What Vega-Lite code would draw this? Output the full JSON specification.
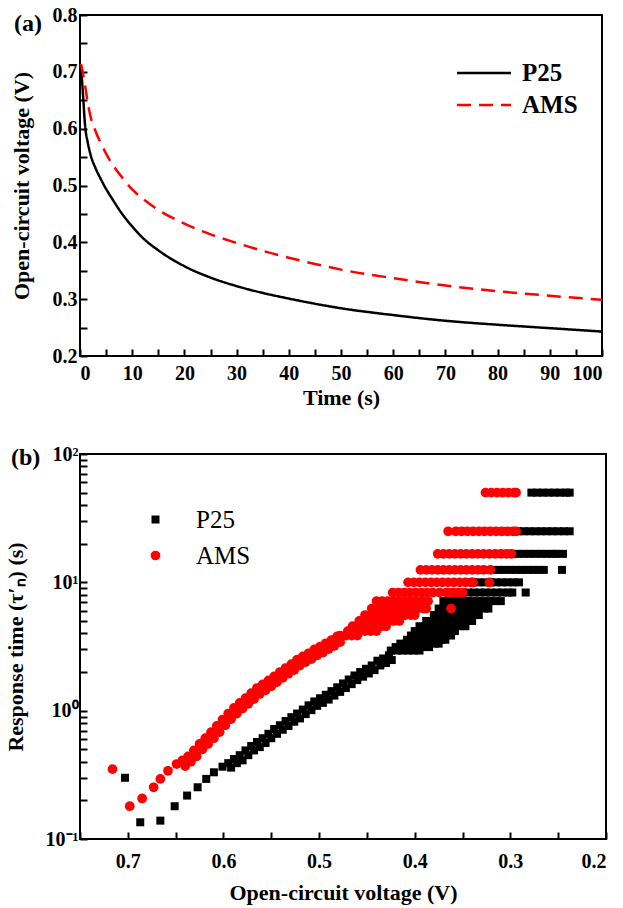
{
"$schema":"https://vega.github.io/schema/vega-lite/v6.json",
"background":"white",
"padding":{"left":3,"top":4,"right":5,"bottom":5},
"config":{
"font":"Liberation Serif",
"view":{"stroke":"black","strokeWidth":2},
"axis":{"labelFont":"Liberation Serif","labelFontWeight":"bold","labelFontSize":20,"labelColor":"black","titleFont":"Liberation Serif","titleFontWeight":"bold","titleFontSize":22,"titleColor":"black","domain":false}
},
"spacing":98,
"bounds":"flush",
"resolve":{"scale":{"color":"independent","shape":"independent","strokeDash":"independent","size":"independent"},"legend":{"color":"independent","shape":"independent","strokeDash":"independent","size":"independent"}},
"datasets":{
"a":[
{"s":"P25","t":0.2,"v":0.708},{"s":"P25","t":0.5,"v":0.67},{"s":"P25","t":1,"v":0.603},{"s":"P25","t":1.5,"v":0.575},{"s":"P25","t":2,"v":0.555},{"s":"P25","t":3,"v":0.53},{"s":"P25","t":4,"v":0.511},{"s":"P25","t":5,"v":0.494},{"s":"P25","t":6,"v":0.479},{"s":"P25","t":8,"v":0.451},{"s":"P25","t":10,"v":0.428},{"s":"P25","t":12,"v":0.408},{"s":"P25","t":15,"v":0.386},{"s":"P25","t":20,"v":0.358},{"s":"P25","t":25,"v":0.338},{"s":"P25","t":30,"v":0.323},{"s":"P25","t":35,"v":0.311},{"s":"P25","t":40,"v":0.301},{"s":"P25","t":45,"v":0.292},{"s":"P25","t":50,"v":0.284},{"s":"P25","t":60,"v":0.272},{"s":"P25","t":70,"v":0.262},{"s":"P25","t":80,"v":0.255},{"s":"P25","t":90,"v":0.249},{"s":"P25","t":100,"v":0.243},
{"s":"AMS","t":0.2,"v":0.714},{"s":"AMS","t":0.5,"v":0.7},{"s":"AMS","t":1,"v":0.674},{"s":"AMS","t":1.5,"v":0.645},{"s":"AMS","t":2,"v":0.622},{"s":"AMS","t":3,"v":0.595},{"s":"AMS","t":4,"v":0.574},{"s":"AMS","t":5,"v":0.556},{"s":"AMS","t":6,"v":0.54},{"s":"AMS","t":8,"v":0.515},{"s":"AMS","t":10,"v":0.493},{"s":"AMS","t":12,"v":0.477},{"s":"AMS","t":15,"v":0.457},{"s":"AMS","t":20,"v":0.433},{"s":"AMS","t":25,"v":0.414},{"s":"AMS","t":30,"v":0.399},{"s":"AMS","t":35,"v":0.385},{"s":"AMS","t":40,"v":0.373},{"s":"AMS","t":45,"v":0.362},{"s":"AMS","t":50,"v":0.352},{"s":"AMS","t":60,"v":0.337},{"s":"AMS","t":70,"v":0.324},{"s":"AMS","t":80,"v":0.314},{"s":"AMS","t":90,"v":0.306},{"s":"AMS","t":100,"v":0.299}
],
"b":[
{"s":"P25","v":0.703,"t":0.3},{"s":"P25","v":0.687,"t":0.135},{"s":"P25","v":0.666,"t":0.139},{"s":"P25","v":0.651,"t":0.18},{"s":"P25","v":0.638,"t":0.218},{"s":"P25","v":0.627,"t":0.253},{"s":"P25","v":0.618,"t":0.294},{"s":"P25","v":0.61,"t":0.331},{"s":"P25","v":0.601,"t":0.366},
{"s":"P25","v":0.595,"t":0.39},{"s":"P25","v":0.589,"t":0.42},{"s":"P25","v":0.583,"t":0.45},{"s":"P25","v":0.577,"t":0.49},{"s":"P25","v":0.571,"t":0.53},{"s":"P25","v":0.565,"t":0.57},{"s":"P25","v":0.559,"t":0.61},{"s":"P25","v":0.553,"t":0.66},{"s":"P25","v":0.547,"t":0.72},{"s":"P25","v":0.541,"t":0.77},{"s":"P25","v":0.535,"t":0.83},{"s":"P25","v":0.529,"t":0.89},{"s":"P25","v":0.523,"t":0.95},{"s":"P25","v":0.517,"t":1.02},{"s":"P25","v":0.511,"t":1.1},{"s":"P25","v":0.505,"t":1.18},{"s":"P25","v":0.499,"t":1.25},{"s":"P25","v":0.493,"t":1.33},{"s":"P25","v":0.487,"t":1.42},{"s":"P25","v":0.481,"t":1.52},{"s":"P25","v":0.475,"t":1.63},{"s":"P25","v":0.469,"t":1.75},{"s":"P25","v":0.463,"t":1.88},{"s":"P25","v":0.457,"t":2.0},{"s":"P25","v":0.451,"t":2.12},{"s":"P25","v":0.445,"t":2.25},{"s":"P25","v":0.439,"t":2.45},{"s":"P25","v":0.433,"t":2.55},{"s":"P25","v":0.427,"t":2.7},
{"s":"P25","v":0.592,"t":0.36},{"s":"P25","v":0.586,"t":0.39},{"s":"P25","v":0.58,"t":0.41},{"s":"P25","v":0.574,"t":0.45},{"s":"P25","v":0.568,"t":0.49},{"s":"P25","v":0.562,"t":0.52},{"s":"P25","v":0.556,"t":0.56},{"s":"P25","v":0.55,"t":0.61},{"s":"P25","v":0.544,"t":0.66},{"s":"P25","v":0.538,"t":0.71},{"s":"P25","v":0.532,"t":0.76},{"s":"P25","v":0.526,"t":0.82},{"s":"P25","v":0.52,"t":0.87},{"s":"P25","v":0.514,"t":0.94},{"s":"P25","v":0.508,"t":1.01},{"s":"P25","v":0.502,"t":1.09},{"s":"P25","v":0.496,"t":1.15},{"s":"P25","v":0.49,"t":1.22},{"s":"P25","v":0.484,"t":1.31},{"s":"P25","v":0.478,"t":1.4},{"s":"P25","v":0.472,"t":1.5},{"s":"P25","v":0.466,"t":1.61},{"s":"P25","v":0.46,"t":1.73},{"s":"P25","v":0.454,"t":1.84},{"s":"P25","v":0.448,"t":1.95},{"s":"P25","v":0.442,"t":2.07},{"s":"P25","v":0.436,"t":2.25},{"s":"P25","v":0.43,"t":2.35},{"s":"P25","v":0.424,"t":2.48},
{"s":"P25","v":0.425,"t":2.94},{"s":"P25","v":0.419,"t":2.94},{"s":"P25","v":0.413,"t":2.94},{"s":"P25","v":0.407,"t":2.94},{"s":"P25","v":0.401,"t":2.94},{"s":"P25","v":0.395,"t":2.94},
{"s":"P25","v":0.42,"t":3.13},{"s":"P25","v":0.414,"t":3.13},{"s":"P25","v":0.408,"t":3.13},{"s":"P25","v":0.402,"t":3.13},{"s":"P25","v":0.396,"t":3.13},{"s":"P25","v":0.39,"t":3.13},{"s":"P25","v":0.385,"t":3.13},
{"s":"P25","v":0.415,"t":3.33},{"s":"P25","v":0.409,"t":3.33},{"s":"P25","v":0.403,"t":3.33},{"s":"P25","v":0.397,"t":3.33},{"s":"P25","v":0.391,"t":3.33},{"s":"P25","v":0.385,"t":3.33},{"s":"P25","v":0.379,"t":3.33},{"s":"P25","v":0.375,"t":3.33},
{"s":"P25","v":0.408,"t":3.57},{"s":"P25","v":0.402,"t":3.57},{"s":"P25","v":0.396,"t":3.57},{"s":"P25","v":0.39,"t":3.57},{"s":"P25","v":0.384,"t":3.57},{"s":"P25","v":0.378,"t":3.57},{"s":"P25","v":0.372,"t":3.57},{"s":"P25","v":0.368,"t":3.57},
{"s":"P25","v":0.404,"t":3.85},{"s":"P25","v":0.398,"t":3.85},{"s":"P25","v":0.392,"t":3.85},{"s":"P25","v":0.386,"t":3.85},{"s":"P25","v":0.38,"t":3.85},{"s":"P25","v":0.374,"t":3.85},{"s":"P25","v":0.368,"t":3.85},{"s":"P25","v":0.362,"t":3.85},
{"s":"P25","v":0.4,"t":4.17},{"s":"P25","v":0.394,"t":4.17},{"s":"P25","v":0.388,"t":4.17},{"s":"P25","v":0.382,"t":4.17},{"s":"P25","v":0.376,"t":4.17},{"s":"P25","v":0.37,"t":4.17},{"s":"P25","v":0.364,"t":4.17},{"s":"P25","v":0.358,"t":4.17},
{"s":"P25","v":0.395,"t":4.55},{"s":"P25","v":0.389,"t":4.55},{"s":"P25","v":0.383,"t":4.55},{"s":"P25","v":0.377,"t":4.55},{"s":"P25","v":0.371,"t":4.55},{"s":"P25","v":0.365,"t":4.55},{"s":"P25","v":0.359,"t":4.55},{"s":"P25","v":0.353,"t":4.55},{"s":"P25","v":0.347,"t":4.55},
{"s":"P25","v":0.388,"t":5},{"s":"P25","v":0.382,"t":5},{"s":"P25","v":0.376,"t":5},{"s":"P25","v":0.37,"t":5},{"s":"P25","v":0.364,"t":5},{"s":"P25","v":0.358,"t":5},{"s":"P25","v":0.352,"t":5},{"s":"P25","v":0.346,"t":5},{"s":"P25","v":0.34,"t":5},
{"s":"P25","v":0.38,"t":5.56},{"s":"P25","v":0.374,"t":5.56},{"s":"P25","v":0.368,"t":5.56},{"s":"P25","v":0.362,"t":5.56},{"s":"P25","v":0.356,"t":5.56},{"s":"P25","v":0.35,"t":5.56},{"s":"P25","v":0.344,"t":5.56},{"s":"P25","v":0.338,"t":5.56},{"s":"P25","v":0.333,"t":5.56},
{"s":"P25","v":0.375,"t":6.25},{"s":"P25","v":0.369,"t":6.25},{"s":"P25","v":0.363,"t":6.25},{"s":"P25","v":0.357,"t":6.25},{"s":"P25","v":0.351,"t":6.25},{"s":"P25","v":0.345,"t":6.25},{"s":"P25","v":0.339,"t":6.25},{"s":"P25","v":0.333,"t":6.25},{"s":"P25","v":0.327,"t":6.25},{"s":"P25","v":0.323,"t":6.25},
{"s":"P25","v":0.37,"t":7.14},{"s":"P25","v":0.364,"t":7.14},{"s":"P25","v":0.358,"t":7.14},{"s":"P25","v":0.352,"t":7.14},{"s":"P25","v":0.346,"t":7.14},{"s":"P25","v":0.34,"t":7.14},{"s":"P25","v":0.334,"t":7.14},{"s":"P25","v":0.328,"t":7.14},{"s":"P25","v":0.322,"t":7.14},{"s":"P25","v":0.316,"t":7.14},{"s":"P25","v":0.31,"t":7.14},
{"s":"P25","v":0.362,"t":8.33},{"s":"P25","v":0.356,"t":8.33},{"s":"P25","v":0.35,"t":8.33},{"s":"P25","v":0.344,"t":8.33},{"s":"P25","v":0.338,"t":8.33},{"s":"P25","v":0.332,"t":8.33},{"s":"P25","v":0.326,"t":8.33},{"s":"P25","v":0.32,"t":8.33},{"s":"P25","v":0.314,"t":8.33},{"s":"P25","v":0.308,"t":8.33},{"s":"P25","v":0.302,"t":8.33},{"s":"P25","v":0.298,"t":8.33},{"s":"P25","v":0.284,"t":8.33},
{"s":"P25","v":0.345,"t":10},{"s":"P25","v":0.339,"t":10},{"s":"P25","v":0.333,"t":10},{"s":"P25","v":0.327,"t":10},{"s":"P25","v":0.321,"t":10},{"s":"P25","v":0.315,"t":10},{"s":"P25","v":0.309,"t":10},{"s":"P25","v":0.303,"t":10},{"s":"P25","v":0.297,"t":10},{"s":"P25","v":0.291,"t":10},
{"s":"P25","v":0.33,"t":12.5},{"s":"P25","v":0.324,"t":12.5},{"s":"P25","v":0.318,"t":12.5},{"s":"P25","v":0.312,"t":12.5},{"s":"P25","v":0.306,"t":12.5},{"s":"P25","v":0.3,"t":12.5},{"s":"P25","v":0.294,"t":12.5},{"s":"P25","v":0.288,"t":12.5},{"s":"P25","v":0.282,"t":12.5},{"s":"P25","v":0.276,"t":12.5},{"s":"P25","v":0.271,"t":12.5},{"s":"P25","v":0.265,"t":12.5},{"s":"P25","v":0.246,"t":12.5},
{"s":"P25","v":0.31,"t":16.67},{"s":"P25","v":0.304,"t":16.67},{"s":"P25","v":0.298,"t":16.67},{"s":"P25","v":0.292,"t":16.67},{"s":"P25","v":0.286,"t":16.67},{"s":"P25","v":0.28,"t":16.67},{"s":"P25","v":0.274,"t":16.67},{"s":"P25","v":0.268,"t":16.67},{"s":"P25","v":0.262,"t":16.67},{"s":"P25","v":0.256,"t":16.67},{"s":"P25","v":0.252,"t":16.67},{"s":"P25","v":0.245,"t":16.67},
{"s":"P25","v":0.31,"t":25},{"s":"P25","v":0.304,"t":25},{"s":"P25","v":0.298,"t":25},{"s":"P25","v":0.292,"t":25},{"s":"P25","v":0.286,"t":25},{"s":"P25","v":0.28,"t":25},{"s":"P25","v":0.274,"t":25},{"s":"P25","v":0.268,"t":25},{"s":"P25","v":0.262,"t":25},{"s":"P25","v":0.256,"t":25},{"s":"P25","v":0.25,"t":25},{"s":"P25","v":0.244,"t":25},{"s":"P25","v":0.238,"t":25},
{"s":"P25","v":0.278,"t":50},{"s":"P25","v":0.272,"t":50},{"s":"P25","v":0.266,"t":50},{"s":"P25","v":0.26,"t":50},{"s":"P25","v":0.254,"t":50},{"s":"P25","v":0.248,"t":50},{"s":"P25","v":0.242,"t":50},{"s":"P25","v":0.238,"t":50},
{"s":"AMS","v":0.716,"t":0.35},{"s":"AMS","v":0.698,"t":0.18},{"s":"AMS","v":0.685,"t":0.207},{"s":"AMS","v":0.673,"t":0.253},{"s":"AMS","v":0.666,"t":0.294},{"s":"AMS","v":0.658,"t":0.34},{"s":"AMS","v":0.649,"t":0.384},
{"s":"AMS","v":0.643,"t":0.41},{"s":"AMS","v":0.637,"t":0.44},{"s":"AMS","v":0.631,"t":0.49},{"s":"AMS","v":0.625,"t":0.55},{"s":"AMS","v":0.619,"t":0.61},{"s":"AMS","v":0.613,"t":0.68},{"s":"AMS","v":0.607,"t":0.76},{"s":"AMS","v":0.601,"t":0.85},{"s":"AMS","v":0.595,"t":0.95},{"s":"AMS","v":0.589,"t":1.05},{"s":"AMS","v":0.583,"t":1.15},{"s":"AMS","v":0.577,"t":1.25},{"s":"AMS","v":0.571,"t":1.37},{"s":"AMS","v":0.565,"t":1.5},{"s":"AMS","v":0.559,"t":1.6},{"s":"AMS","v":0.553,"t":1.72},{"s":"AMS","v":0.547,"t":1.85},{"s":"AMS","v":0.541,"t":2.0},{"s":"AMS","v":0.535,"t":2.15},{"s":"AMS","v":0.529,"t":2.3},{"s":"AMS","v":0.523,"t":2.5},{"s":"AMS","v":0.517,"t":2.65},{"s":"AMS","v":0.511,"t":2.8},{"s":"AMS","v":0.505,"t":3.0},{"s":"AMS","v":0.499,"t":3.15},{"s":"AMS","v":0.493,"t":3.35},{"s":"AMS","v":0.487,"t":3.55},{"s":"AMS","v":0.481,"t":3.8},
{"s":"AMS","v":0.64,"t":0.37},{"s":"AMS","v":0.634,"t":0.4},{"s":"AMS","v":0.628,"t":0.44},{"s":"AMS","v":0.622,"t":0.5},{"s":"AMS","v":0.616,"t":0.55},{"s":"AMS","v":0.61,"t":0.61},{"s":"AMS","v":0.604,"t":0.68},{"s":"AMS","v":0.598,"t":0.77},{"s":"AMS","v":0.592,"t":0.86},{"s":"AMS","v":0.586,"t":0.95},{"s":"AMS","v":0.58,"t":1.04},{"s":"AMS","v":0.574,"t":1.13},{"s":"AMS","v":0.568,"t":1.23},{"s":"AMS","v":0.562,"t":1.35},{"s":"AMS","v":0.556,"t":1.44},{"s":"AMS","v":0.55,"t":1.55},{"s":"AMS","v":0.544,"t":1.67},{"s":"AMS","v":0.538,"t":1.8},{"s":"AMS","v":0.532,"t":1.94},{"s":"AMS","v":0.526,"t":2.07},{"s":"AMS","v":0.52,"t":2.25},{"s":"AMS","v":0.514,"t":2.39},{"s":"AMS","v":0.508,"t":2.52},{"s":"AMS","v":0.502,"t":2.7},{"s":"AMS","v":0.496,"t":2.84},{"s":"AMS","v":0.49,"t":3.02},{"s":"AMS","v":0.484,"t":3.2},{"s":"AMS","v":0.478,"t":3.42},
{"s":"AMS","v":0.478,"t":3.85},{"s":"AMS","v":0.472,"t":3.85},{"s":"AMS","v":0.466,"t":3.85},{"s":"AMS","v":0.46,"t":3.85},
{"s":"AMS","v":0.47,"t":4.17},{"s":"AMS","v":0.464,"t":4.17},{"s":"AMS","v":0.458,"t":4.17},{"s":"AMS","v":0.452,"t":4.17},{"s":"AMS","v":0.446,"t":4.17},{"s":"AMS","v":0.44,"t":4.17},
{"s":"AMS","v":0.465,"t":4.55},{"s":"AMS","v":0.459,"t":4.55},{"s":"AMS","v":0.453,"t":4.55},{"s":"AMS","v":0.447,"t":4.55},{"s":"AMS","v":0.441,"t":4.55},{"s":"AMS","v":0.435,"t":4.55},{"s":"AMS","v":0.43,"t":4.55},
{"s":"AMS","v":0.458,"t":5},{"s":"AMS","v":0.452,"t":5},{"s":"AMS","v":0.446,"t":5},{"s":"AMS","v":0.44,"t":5},{"s":"AMS","v":0.434,"t":5},{"s":"AMS","v":0.428,"t":5},{"s":"AMS","v":0.422,"t":5},{"s":"AMS","v":0.416,"t":5},
{"s":"AMS","v":0.452,"t":5.56},{"s":"AMS","v":0.446,"t":5.56},{"s":"AMS","v":0.44,"t":5.56},{"s":"AMS","v":0.434,"t":5.56},{"s":"AMS","v":0.428,"t":5.56},{"s":"AMS","v":0.422,"t":5.56},{"s":"AMS","v":0.416,"t":5.56},{"s":"AMS","v":0.41,"t":5.56},{"s":"AMS","v":0.404,"t":5.56},{"s":"AMS","v":0.4,"t":5.56},
{"s":"AMS","v":0.445,"t":6.25},{"s":"AMS","v":0.439,"t":6.25},{"s":"AMS","v":0.433,"t":6.25},{"s":"AMS","v":0.427,"t":6.25},{"s":"AMS","v":0.421,"t":6.25},{"s":"AMS","v":0.415,"t":6.25},{"s":"AMS","v":0.409,"t":6.25},{"s":"AMS","v":0.403,"t":6.25},{"s":"AMS","v":0.397,"t":6.25},{"s":"AMS","v":0.391,"t":6.25},{"s":"AMS","v":0.388,"t":6.25},{"s":"AMS","v":0.362,"t":6.25},
{"s":"AMS","v":0.44,"t":7.14},{"s":"AMS","v":0.434,"t":7.14},{"s":"AMS","v":0.428,"t":7.14},{"s":"AMS","v":0.422,"t":7.14},{"s":"AMS","v":0.416,"t":7.14},{"s":"AMS","v":0.41,"t":7.14},{"s":"AMS","v":0.404,"t":7.14},{"s":"AMS","v":0.398,"t":7.14},{"s":"AMS","v":0.392,"t":7.14},{"s":"AMS","v":0.386,"t":7.14},
{"s":"AMS","v":0.423,"t":8.33},{"s":"AMS","v":0.417,"t":8.33},{"s":"AMS","v":0.411,"t":8.33},{"s":"AMS","v":0.405,"t":8.33},{"s":"AMS","v":0.399,"t":8.33},{"s":"AMS","v":0.393,"t":8.33},{"s":"AMS","v":0.387,"t":8.33},{"s":"AMS","v":0.381,"t":8.33},{"s":"AMS","v":0.374,"t":8.33},{"s":"AMS","v":0.367,"t":8.33},{"s":"AMS","v":0.361,"t":8.33},{"s":"AMS","v":0.355,"t":8.33},{"s":"AMS","v":0.35,"t":8.33},
{"s":"AMS","v":0.407,"t":10},{"s":"AMS","v":0.401,"t":10},{"s":"AMS","v":0.395,"t":10},{"s":"AMS","v":0.389,"t":10},{"s":"AMS","v":0.383,"t":10},{"s":"AMS","v":0.377,"t":10},{"s":"AMS","v":0.371,"t":10},{"s":"AMS","v":0.365,"t":10},{"s":"AMS","v":0.359,"t":10},{"s":"AMS","v":0.353,"t":10},{"s":"AMS","v":0.347,"t":10},{"s":"AMS","v":0.341,"t":10},{"s":"AMS","v":0.339,"t":10},{"s":"AMS","v":0.322,"t":10},
{"s":"AMS","v":0.394,"t":12.5},{"s":"AMS","v":0.388,"t":12.5},{"s":"AMS","v":0.382,"t":12.5},{"s":"AMS","v":0.376,"t":12.5},{"s":"AMS","v":0.37,"t":12.5},{"s":"AMS","v":0.364,"t":12.5},{"s":"AMS","v":0.358,"t":12.5},{"s":"AMS","v":0.352,"t":12.5},{"s":"AMS","v":0.346,"t":12.5},{"s":"AMS","v":0.34,"t":12.5},{"s":"AMS","v":0.334,"t":12.5},{"s":"AMS","v":0.328,"t":12.5},{"s":"AMS","v":0.321,"t":12.5},
{"s":"AMS","v":0.376,"t":16.67},{"s":"AMS","v":0.37,"t":16.67},{"s":"AMS","v":0.364,"t":16.67},{"s":"AMS","v":0.358,"t":16.67},{"s":"AMS","v":0.352,"t":16.67},{"s":"AMS","v":0.346,"t":16.67},{"s":"AMS","v":0.34,"t":16.67},{"s":"AMS","v":0.334,"t":16.67},{"s":"AMS","v":0.328,"t":16.67},{"s":"AMS","v":0.322,"t":16.67},{"s":"AMS","v":0.316,"t":16.67},{"s":"AMS","v":0.31,"t":16.67},{"s":"AMS","v":0.304,"t":16.67},{"s":"AMS","v":0.299,"t":16.67},
{"s":"AMS","v":0.365,"t":25},{"s":"AMS","v":0.357,"t":25},{"s":"AMS","v":0.351,"t":25},{"s":"AMS","v":0.345,"t":25},{"s":"AMS","v":0.339,"t":25},{"s":"AMS","v":0.333,"t":25},{"s":"AMS","v":0.327,"t":25},{"s":"AMS","v":0.321,"t":25},{"s":"AMS","v":0.315,"t":25},{"s":"AMS","v":0.309,"t":25},{"s":"AMS","v":0.303,"t":25},{"s":"AMS","v":0.297,"t":25},{"s":"AMS","v":0.294,"t":25},
{"s":"AMS","v":0.326,"t":50},{"s":"AMS","v":0.32,"t":50},{"s":"AMS","v":0.314,"t":50},{"s":"AMS","v":0.308,"t":50},{"s":"AMS","v":0.302,"t":50},{"s":"AMS","v":0.296,"t":50},{"s":"AMS","v":0.294,"t":50}
]
},
"vconcat":[
{
"width":522,"height":341,
"title":{"text":"(a)","anchor":"start","frame":"bounds","font":"Liberation Serif","fontSize":24,"fontWeight":"bold","color":"black","offset":-31,"dx":4},
"data":{"name":"a"},
"mark":{"type":"line","strokeWidth":2.5,"interpolate":"monotone"},
"encoding":{
"x":{"field":"t","type":"quantitative","scale":{"domain":[0,100],"nice":false},
"axis":{"title":"Time (s)","values":[0,5,10,15,20,25,30,35,40,45,50,55,60,65,70,75,80,85,90,95,100],"labelExpr":"datum.value % 10 == 0 ? datum.label : ''","ticks":true,"tickSize":-7,"tickColor":"black","tickWidth":2,"grid":false,"labelPadding":14,"titlePadding":4}},
"y":{"field":"v","type":"quantitative","scale":{"domain":[0.2,0.8],"nice":false,"zero":false},
"axis":{"title":"Open-circuit voltage (V)","values":[0.2,0.25,0.3,0.35,0.4,0.45,0.5,0.55,0.6,0.65,0.7,0.75,0.8],"labelExpr":"round(datum.value*100) % 10 == 0 ? format(datum.value, '.1f') : ''","ticks":true,"tickSize":-7,"tickColor":"black","tickWidth":2,"grid":false,"labelPadding":10,"titlePadding":19}},
"color":{"field":"s","type":"nominal","scale":{"domain":["P25","AMS"],"range":["black","#ff0000"]},
"legend":{"title":null,"orient":"none","legendX":389,"legendY":43,"symbolType":"M-2,0L2,0","symbolSize":729,"symbolStrokeWidth":2.5,"labelFont":"Liberation Serif","labelFontWeight":"bold","labelFontSize":25,"labelColor":"black","labelOffset":23,"rowPadding":4}},
"strokeDash":{"field":"s","type":"nominal","scale":{"domain":["P25","AMS"],"range":[[1,0],[14,8]]},
"legend":{"title":null,"orient":"none","legendX":389,"legendY":43,"symbolType":"M-2,0L2,0","symbolSize":729,"symbolStrokeWidth":2.5,"labelFont":"Liberation Serif","labelFontWeight":"bold","labelFontSize":25,"labelColor":"black","labelOffset":23,"rowPadding":4}}
}
},
{
"width":526,"height":385,
"title":{"text":"(b)","anchor":"start","frame":"bounds","font":"Liberation Serif","fontSize":24,"fontWeight":"bold","color":"black","offset":-26,"dx":7},
"data":{"name":"b"},
"mark":{"type":"point","filled":true,"opacity":1},
"encoding":{
"x":{"field":"v","type":"quantitative","scale":{"domain":[0.2,0.75],"reverse":true,"nice":false,"zero":false},
"axis":{"title":"Open-circuit voltage (V)","values":[0.2,0.25,0.3,0.35,0.4,0.45,0.5,0.55,0.6,0.65,0.7,0.75],"labelExpr":"round(datum.value*100) % 10 == 0 ? format(datum.value, '.1f') : ''","ticks":true,"tickSize":-7,"tickColor":"black","tickWidth":2,"grid":false,"labelPadding":19,"titlePadding":11}},
"y":{"field":"t","type":"quantitative","scale":{"type":"log","domain":[0.1,100],"nice":false},
"axis":{"title":"Response time (τ′ₙ) (s)","values":[0.1,0.2,0.3,0.4,0.5,0.6,0.7,0.8,0.9,1,2,3,4,5,6,7,8,9,10,20,30,40,50,60,70,80,90,100],"labelExpr":"datum.value==0.1 ? '10⁻¹' : datum.value==1 ? '10⁰' : datum.value==10 ? '10¹' : datum.value==100 ? '10²' : ''","ticks":true,"tickSize":-7,"tickColor":"black","tickWidth":2,"grid":false,"labelPadding":9,"titlePadding":18}},
"color":{"field":"s","type":"nominal","scale":{"domain":["P25","AMS"],"range":["black","#ff0000"]},
"legend":{"title":null,"orient":"none","legendX":63,"legendY":53,"labelFont":"Liberation Serif","labelFontWeight":"normal","labelFontSize":25,"labelColor":"black","labelOffset":28,"rowPadding":10,"symbolSize":64}},
"shape":{"field":"s","type":"nominal","scale":{"domain":["P25","AMS"],"range":["square","circle"]},
"legend":{"title":null,"orient":"none","legendX":63,"legendY":53,"labelFont":"Liberation Serif","labelFontWeight":"normal","labelFontSize":25,"labelColor":"black","labelOffset":28,"rowPadding":10,"symbolSize":64}},
"size":{"field":"s","type":"nominal","scale":{"domain":["P25","AMS"],"range":[64,95]},"legend":null}
}
}
]
}
